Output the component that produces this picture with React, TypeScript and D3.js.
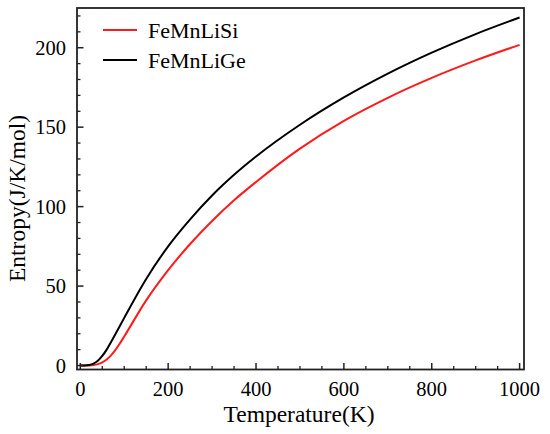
import * as d3 from "d3";

// temperature grid (K) and entropy values (J/K/mol)
const temps = [0, 10, 20, 30, 40, 50, 60, 70, 80, 90, 100, 150, 200, 250, 300, 350, 400, 500, 600, 700, 800, 900, 1000];
const siEntropy = [0, 0, 0.05, 0.3, 0.9, 2, 3.8, 6.4, 9.8, 13.9, 18.3, 41, 60, 76.5, 91, 104, 115.5, 136.5, 154, 168.5, 181, 192, 201.8];
const geEntropy = [0, 0, 0.3, 1.2, 3, 6, 10, 14.8, 19.8, 24.9, 30, 54.5, 75, 92, 107, 120, 131.5, 151.5, 168.7, 183.7, 196.9, 208.6, 219];

const series = [
  { name: "FeMnLiSi", color: "#ff1a1a", values: siEntropy },
  { name: "FeMnLiGe", color: "#000000", values: geEntropy },
];

const xMajor = [0, 200, 400, 600, 800, 1000];
const yMajor = [0, 50, 100, 150, 200];

const W = 550;
const H = 434;
const margin = { top: 8, right: 26, bottom: 64.5, left: 77 };
const FONT = "'Liberation Serif', 'Times New Roman', serif";

export default function App() {
  const x = d3.scaleLinear().domain([-7.5, 1010]).range([margin.left, W - margin.right]);
  const y = d3.scaleLinear().domain([-2.5, 225]).range([H - margin.bottom, margin.top]);

  const line = d3
    .line<number>()
    .x((_, i) => x(temps[i]))
    .y((d) => y(d))
    .curve(d3.curveMonotoneX);

  const xMinor = d3.range(0, 1001, 50).filter((v) => v % 200 !== 0);
  const yMinor = d3.range(0, 221, 10).filter((v) => v % 50 !== 0);
  const x0 = margin.left;
  const y0 = H - margin.bottom;

  return (
    <svg width={W} height={H} style={{ position: "absolute", left: 0, top: 0, background: "#fff" }} fontFamily={FONT}>
      {series.map((s) => (
        <path key={s.name} d={line(s.values) || ""} fill="none" stroke={s.color} strokeWidth={2} />
      ))}

      {/* frame */}
      <rect x={x0} y={margin.top} width={W - margin.right - x0} height={y0 - margin.top} fill="none" stroke="#222" strokeWidth={1.8} />

      {/* x ticks */}
      {xMajor.map((v) => (
        <g key={"xm" + v}>
          <line x1={x(v)} x2={x(v)} y1={y0} y2={y0 - 6.5} stroke="#222" strokeWidth={1.5} />
          <text x={x(v)} y={396} textAnchor="middle" fontSize={20.5} fill="#000">{v}</text>
        </g>
      ))}
      {xMinor.map((v) => (
        <line key={"xn" + v} x1={x(v)} x2={x(v)} y1={y0} y2={y0 - 3.5} stroke="#222" strokeWidth={1.3} />
      ))}

      {/* y ticks */}
      {yMajor.map((v) => (
        <g key={"ym" + v}>
          <line x1={x0} x2={x0 + 6.5} y1={y(v)} y2={y(v)} stroke="#222" strokeWidth={1.5} />
          <text x={66} y={y(v)} dy="0.35em" textAnchor="end" fontSize={20.5} fill="#000">{v}</text>
        </g>
      ))}
      {yMinor.map((v) => (
        <line key={"yn" + v} x1={x0} x2={x0 + 3.5} y1={y(v)} y2={y(v)} stroke="#222" strokeWidth={1.3} />
      ))}

      {/* axis titles */}
      <text x={299} y={421.5} textAnchor="middle" fontSize={23.5} fill="#000">Temperature(K)</text>
      <text transform="translate(25,198.5) rotate(-90)" textAnchor="middle" fontSize={23.5} fill="#000">Entropy(J/K/mol)</text>

      {/* legend */}
      {series.map((s, i) => (
        <g key={"lg" + s.name} transform={`translate(0,${30 + i * 30})`}>
          <line x1={103} x2={137} y1={0} y2={0} stroke={s.color} strokeWidth={2} />
          <text x={148} y={0} dy="0.35em" fontSize={22} fill="#000">{s.name}</text>
        </g>
      ))}
    </svg>
  );
}
